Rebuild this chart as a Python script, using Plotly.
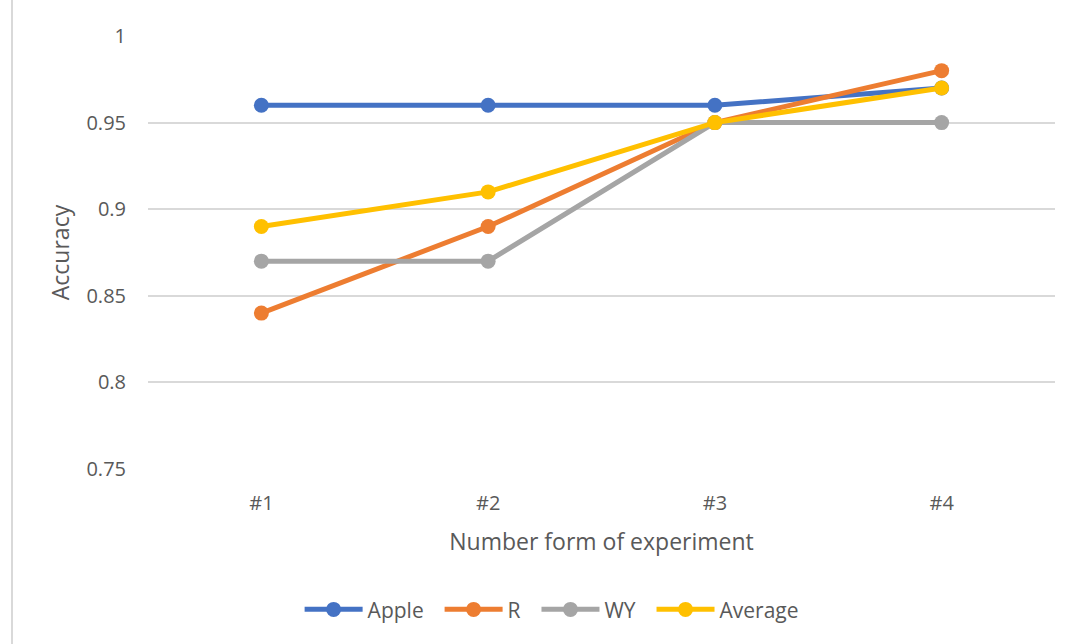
import plotly.graph_objects as go

categories = ["#1", "#2", "#3", "#4"]
apple = [0.96, 0.96, 0.96, 0.97]
r_vals = [0.84, 0.89, 0.95, 0.98]
wy = [0.87, 0.87, 0.95, 0.95]
average = [0.89, 0.91, 0.95, 0.97]
y_ticks = [0.75, 0.8, 0.85, 0.9, 0.95, 1]
y_tick_labels = ["0.75", "0.8", "0.85", "0.9", "0.95", "1"]

series = [
    ("Apple", apple, "#4472C4"),
    ("R", r_vals, "#ED7D31"),
    ("WY", wy, "#A5A5A5"),
    ("Average", average, "#FFC000"),
]

FONT = "Open Sans, Liberation Sans, sans-serif"

fig = go.Figure()
for i, (name, vals, color) in enumerate(series):
    label = name + ("\u00a0\u00a0" if i < len(series) - 1 else "")
    fig.add_trace(go.Scatter(
        x=categories, y=vals, name=label, mode="lines+markers",
        line=dict(color=color, width=5),
        marker=dict(color=color, size=15),
    ))

fig.update_layout(
    width=1075, height=644,
    margin=dict(l=148, r=20, t=36, b=175),
    paper_bgcolor="white", plot_bgcolor="white",
    font=dict(family=FONT, color="#595959", size=20),
    showlegend=True,
    legend=dict(orientation="h", x=0.445, xanchor="center", y=-0.325, yanchor="middle",
                font=dict(size=21, color="#595959"), itemwidth=58, tracegroupgap=0),
    xaxis=dict(
        type="category", range=[-0.5, 3.5],
        showgrid=False, showline=False, zeroline=False, ticks="",
        ticklabelstandoff=20,
        tickfont=dict(size=20, color="#595959"),
        title=dict(text="Number form of experiment", font=dict(size=23, color="#595959"), standoff=18),
    ),
    yaxis=dict(
        range=[0.75, 1.0], tickvals=y_ticks, ticktext=y_tick_labels,
        showgrid=True, gridcolor="#D9D9D9", gridwidth=1.5,
        zeroline=False, showline=False, ticks="",
        ticklabelstandoff=21,
        tickfont=dict(size=20, color="#595959"),
        title=dict(text="Accuracy", font=dict(size=23, color="#595959"), standoff=10),
    ),
)

# left border of the chart area
fig.add_shape(type="line", xref="paper", yref="paper",
              x0=(12 - 148) / 907, x1=(12 - 148) / 907,
              y0=-175 / 433, y1=1 + 36 / 433,
              line=dict(color="#D9D9D9", width=2))

fig.write_html("out.html")
